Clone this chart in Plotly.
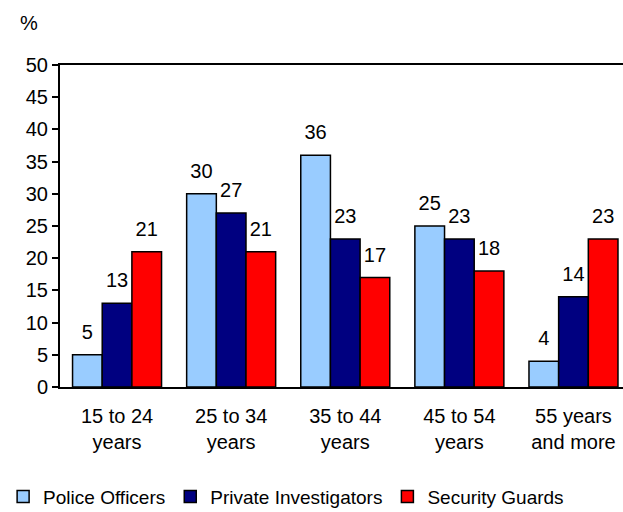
import plotly.graph_objects as go

categories = ["15 to 24<br>years", "25 to 34<br>years", "35 to 44<br>years",
              "45 to 54<br>years", "55 years<br>and more"]
police = [5, 30, 36, 25, 4]
private = [13, 27, 23, 23, 14]
security = [21, 21, 17, 18, 23]

FONT = "Liberation Sans, Arial, sans-serif"

series = [("Police Officers", police, "#99CCFF"),
          ("Private Investigators", private, "#000080"),
          ("Security Guards", security, "#FF0000")]

fig = go.Figure()
for i, (name, vals, col) in enumerate(series):
    fig.add_trace(go.Bar(
        x=categories, y=vals, name=name, offsetgroup=str(i),
        marker=dict(color=col, line=dict(color="black", width=1.5)),
    ))
for i, (name, vals, col) in enumerate(series):
    fig.add_trace(go.Scatter(
        x=categories, y=vals, offsetgroup=str(i), mode="markers+text",
        text=[str(v) for v in vals], textposition="top center",
        textfont=dict(size=20, color="black", family=FONT),
        marker=dict(size=16, color="rgba(0,0,0,0)"),
        showlegend=False, hoverinfo="skip", cliponaxis=False,
    ))

fig.update_layout(
    width=623, height=512,
    margin=dict(l=60, r=0, t=65, b=125),
    barmode="group", bargap=0.22, bargroupgap=0,
    scattermode="group", scattergap=0.22,
    plot_bgcolor="white", paper_bgcolor="white",
    font=dict(family=FONT, size=20, color="black"),
    showlegend=True,
    legend=dict(orientation="h", xref="container", yref="container",
                x=0.005, y=0.03, xanchor="left", yanchor="middle",
                font=dict(size=19), itemwidth=30, tracegroupgap=0,
                traceorder="normal"),
    annotations=[dict(text="%", xref="paper", yref="paper", x=-0.055, y=1.13,
                      xanchor="center", yanchor="middle", showarrow=False,
                      font=dict(size=20))],
)
fig.update_xaxes(type="category", range=[-0.5, 4.434], showline=True,
                 linecolor="black", linewidth=2, mirror=True, ticks="",
                 showgrid=False, ticklabelstandoff=10, tickfont=dict(size=20))
fig.update_yaxes(range=[0, 50], dtick=5, showline=True, linecolor="black",
                 linewidth=2, ticks="outside", ticklen=6, tickwidth=2,
                 tickcolor="black", showgrid=False, zeroline=False,
                 tickfont=dict(size=20))

fig.write_html("out.html", config={"displayModeBar": False},
               post_script="document.body.style.margin='0';")
